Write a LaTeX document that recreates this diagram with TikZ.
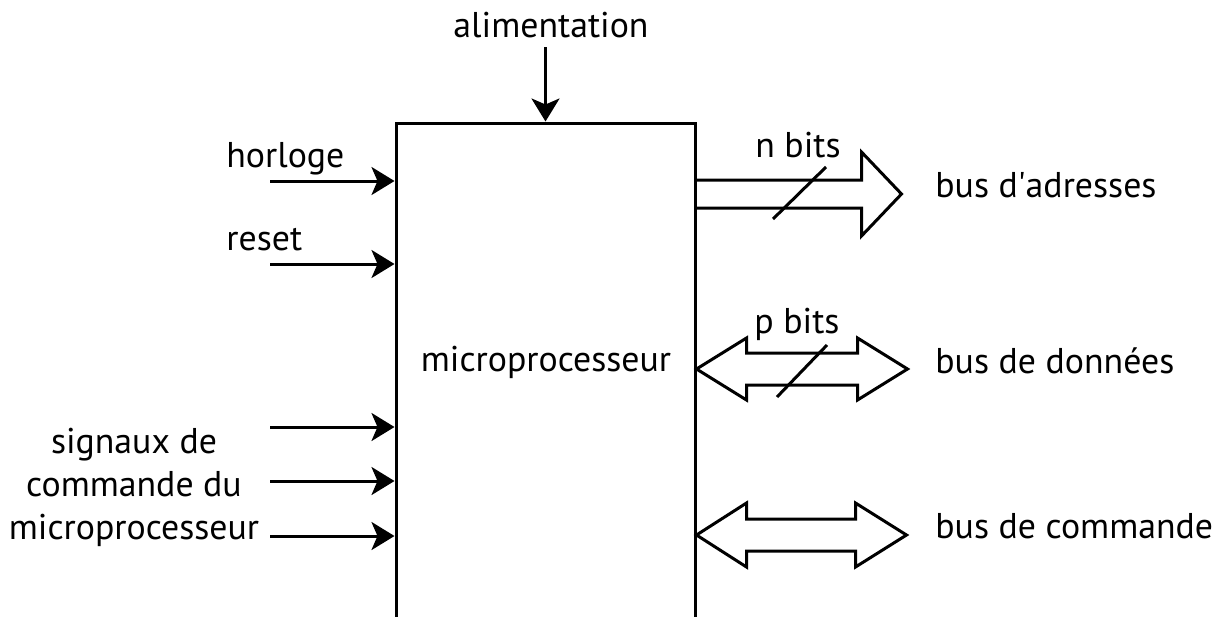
\documentclass[tikz,border=0pt]{standalone}
\usepackage{fontspec}
\setmainfont{PT Sans}
\usetikzlibrary{arrows.meta}
\tikzset{
  cpubox/.style = {rectangle, draw, line width=1.5pt, minimum width=149.5pt,
                   minimum height=263.5pt},
  siglabel/.style = {font=\fontsize{17.9}{21.5}\selectfont, inner sep=0pt},
  sigarrow/.style = {-{Stealth[length=11.5pt,width=14pt,inset=3pt]}, line width=1.5pt},
  busline/.style = {draw, line width=1.5pt, line join=miter},
  bitstick/.style = {line width=1.5pt}
}

\begin{document}
\begin{tikzpicture}[x=0.5pt, y=-0.5pt]
\useasboundingbox (0,0) rectangle (1230,616);
\clip (0,0) rectangle (1230,616);

\node[cpubox] (cpu) at (545.5,386.5) {};
\node[siglabel, anchor=base] (cpulbl) at (546,371) {microprocesseur};

% alimentation
\node[siglabel, anchor=base] (ali) at (551,37) {alimentation};
\coordinate (alim) at (545.5,47);
\draw[sigarrow] (alim) -- (cpu.north);

% entrees a gauche
\node[siglabel, anchor=base west] (clk) at (226,167) {horloge};
\node[siglabel, anchor=base west] (rst) at (226,250) {reset};
\node[siglabel, anchor=north, align=center] (sig) at (134,428)
  {signaux de\\commande du\\microprocesseur};
\foreach \y/\n in {181/clkin, 264/rstin, 427/sigA, 481/sigB, 536/sigC} {
  \coordinate (\n) at (270,\y);
  \draw[sigarrow] (\n) -- (\n -| cpu.west);
}

% bus d'adresses (n bits)
\coordinate (badr) at (cpu.east |- 0,194);
\draw[busline] ([yshift=7pt]badr) -- ++(82.5pt,0) -- ++(0,14pt) -- ++(20pt,-21pt)
  -- ++(-20pt,-21pt) -- ++(0,14pt) -- ([yshift=-7pt]badr);
\draw[bitstick] (773,219) -- (826,167);
\node[siglabel, anchor=base] (nbits) at (798,157) {n bits};
\node[siglabel, anchor=base west] (adr) at (935,197) {bus d\textquotesingle adresses};

% bus de donnees (p bits)
\coordinate (bdon) at (cpu.east |- 0,369);
\draw[busline] (bdon) -- ++(25pt,15.5pt) -- ++(0,-7.5pt) -- ++(55.5pt,0) -- ++(0,7.5pt)
  -- ++(25pt,-15.5pt) -- ++(-25pt,-15.5pt) -- ++(0,7.5pt) -- ++(-55.5pt,0)
  -- ++(0,-7.5pt) -- cycle;
\draw[bitstick] (777,397) -- (827,345);
\node[siglabel, anchor=base] (pbits) at (797,333) {p bits};
\node[siglabel, anchor=base west] (don) at (935,373) {bus de donn\'ees};

% bus de commande
\coordinate (bcom) at (cpu.east |- 0,535);
\draw[busline] (bcom) -- ++(25pt,16pt) -- ++(0,-8pt) -- ++(54.5pt,0) -- ++(0,8pt)
  -- ++(25.5pt,-16pt) -- ++(-25.5pt,-16pt) -- ++(0,8pt) -- ++(-54.5pt,0)
  -- ++(0,-8pt) -- cycle;
\node[siglabel, anchor=base west] (com) at (935,538) {bus de commande};
\end{tikzpicture}
\end{document}
